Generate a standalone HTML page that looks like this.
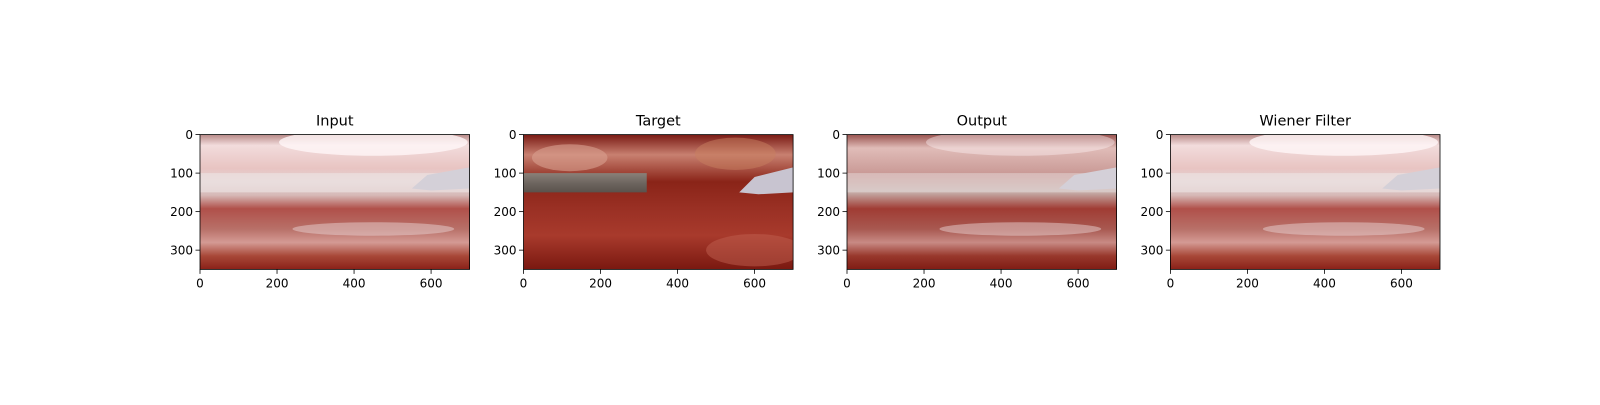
<!DOCTYPE html>
<html><head><meta charset="utf-8">
<style>
html,body{margin:0;padding:0;background:#fff;}
svg text{font-family:"DejaVu Sans","Liberation Sans",sans-serif;}
</style></head>
<body>
<svg id="fig" width="1600" height="400" viewBox="0 0 1600 400" xmlns="http://www.w3.org/2000/svg">
<defs>
  <linearGradient id="hazeV" x1="0" y1="0" x2="0" y2="1">
    <stop offset="0" stop-color="#b88a88"/>
    <stop offset="0.08" stop-color="#f2dcdc"/>
    <stop offset="0.25" stop-color="#e8c4c2"/>
    <stop offset="0.35" stop-color="#e3d2d2"/>
    <stop offset="0.45" stop-color="#d6b8b6"/>
    <stop offset="0.55" stop-color="#b0504a"/>
    <stop offset="0.7" stop-color="#b87068"/>
    <stop offset="0.8" stop-color="#d49a94"/>
    <stop offset="0.9" stop-color="#a84838"/>
    <stop offset="1" stop-color="#8a2018"/>
  </linearGradient>
  <linearGradient id="outV" x1="0" y1="0" x2="0" y2="1">
    <stop offset="0" stop-color="#9a5450"/>
    <stop offset="0.1" stop-color="#e0bcb8"/>
    <stop offset="0.3" stop-color="#c89894"/>
    <stop offset="0.42" stop-color="#c8b4b0"/>
    <stop offset="0.55" stop-color="#a03c34"/>
    <stop offset="0.7" stop-color="#a85850"/>
    <stop offset="0.8" stop-color="#c88a84"/>
    <stop offset="0.9" stop-color="#98382c"/>
    <stop offset="1" stop-color="#801c14"/>
  </linearGradient>
  <linearGradient id="tgtV" x1="0" y1="0" x2="0" y2="1">
    <stop offset="0" stop-color="#7a1a14"/>
    <stop offset="0.15" stop-color="#c88070"/>
    <stop offset="0.35" stop-color="#8a2418"/>
    <stop offset="0.55" stop-color="#9a3024"/>
    <stop offset="0.75" stop-color="#a83a2c"/>
    <stop offset="1" stop-color="#7a1810"/>
  </linearGradient>
  <linearGradient id="toolG" x1="0" y1="0" x2="0" y2="1">
    <stop offset="0" stop-color="#8a8078"/>
    <stop offset="0.5" stop-color="#6e6660"/>
    <stop offset="1" stop-color="#5a524c"/>
  </linearGradient>
</defs>
<g id="panels"></g>
</svg>
<script>
const titles = ["Input","Target","Output","Wiener Filter"];
const kinds = ["haze","target","output","haze"];
const xTicks = [0,200,400,600];
const yTicks = [0,100,200,300];
const imgW = 700, imgH = 350;

const NS = "http://www.w3.org/2000/svg";
const panelsG = document.getElementById("panels");
const defsEl = document.querySelector("defs");
const axW = 269.6, axH = 134.8, axTop = 134.6;
const lefts = [200, 523.5, 847, 1170.4];

function mk(tag, attrs, parent){
  const e = document.createElementNS(NS, tag);
  for (const k in attrs) e.setAttribute(k, attrs[k]);
  parent.appendChild(e);
  return e;
}

titles.forEach((t, i) => {
  const L = lefts[i];
  const sx = v => L + v / imgW * axW;
  const sy = v => axTop + v / imgH * axH;
  const cp = mk("clipPath", {id:"clip" + i}, defsEl);
  mk("rect", {x:sx(0), y:sy(0), width:axW, height:axH}, cp);
  const pg = mk("g", {}, panelsG);
  
  
  const img = mk("g", {"clip-path":"url(#clip" + i + ")"}, pg);
  
  
  const k = kinds[i];
  const fill = k === "target" ? "url(#tgtV)" : (k === "output" ? "url(#outV)" : "url(#hazeV)");
  mk("rect", {x:sx(0), y:sy(0), width:axW, height:axH, fill:fill}, img);
  if (k === "target") {
    mk("ellipse", {cx:sx(120), cy:sy(60), rx:axW*0.14, ry:axH*0.1, fill:"#d8a090", opacity:0.6}, img);
    mk("ellipse", {cx:sx(550), cy:sy(50), rx:axW*0.15, ry:axH*0.12, fill:"#c88060", opacity:0.5}, img);
    mk("ellipse", {cx:sx(600), cy:sy(300), rx:axW*0.18, ry:axH*0.12, fill:"#c06050", opacity:0.5}, img);
    mk("rect", {x:sx(0), y:sy(100), width:sx(320)-sx(0), height:sy(150)-sy(100), fill:"url(#toolG)"}, img);
    mk("polygon", {points:`${sx(560)},${sy(150)} ${sx(600)},${sy(110)} ${sx(700)},${sy(85)} ${sx(700)},${sy(150)} ${sx(610)},${sy(155)}`, fill:"#c8c4d0"}, img);
  } else {
    const lift = k === "output" ? 0.45 : 0.65;
    mk("rect", {x:sx(0), y:sy(100), width:axW, height:sy(150)-sy(100), fill:"#ece4e4", opacity:lift}, img);
    mk("ellipse", {cx:sx(450), cy:sy(20), rx:axW*0.35, ry:axH*0.1, fill:"#fff6f8", opacity:k==="output"?0.4:0.8}, img);
    mk("polygon", {points:`${sx(550)},${sy(140)} ${sx(590)},${sy(105)} ${sx(700)},${sy(85)} ${sx(700)},${sy(140)} ${sx(600)},${sy(145)}`, fill:"#d4d0d8"}, img);
    mk("ellipse", {cx:sx(450), cy:sy(245), rx:axW*0.3, ry:axH*0.05, fill:"#e8d0d0", opacity:0.5}, img);
  }
  mk("rect", {x:sx(0), y:sy(0), width:axW, height:axH, fill:"none", stroke:"#000", "stroke-width":0.8}, pg);
  const tt = mk("text", {x:L+axW/2, y:axTop-9, "text-anchor":"middle", "font-size":"14.5", fill:"#000"}, pg);
  tt.textContent = t;
  
  
  xTicks.forEach(v => {
    const x = sx(v);
    mk("line", {x1:x, x2:x, y1:axTop+axH, y2:axTop+axH+4.5, stroke:"#000", "stroke-width":0.8}, pg);
    const tl = mk("text", {x:x, y:axTop+axH+18, "text-anchor":"middle", "font-size":"12", fill:"#000"}, pg);
    tl.textContent = v;
    
    
  });
  yTicks.forEach(v => {
    const y = sy(v);
    mk("line", {x1:L-4.5, x2:L, y1:y, y2:y, stroke:"#000", "stroke-width":0.8}, pg);
    const tl = mk("text", {x:L-7, y:y+4.3, "text-anchor":"end", "font-size":"12", fill:"#000"}, pg);
    tl.textContent = v;
    
    
  });
});
</script>
</body></html>
